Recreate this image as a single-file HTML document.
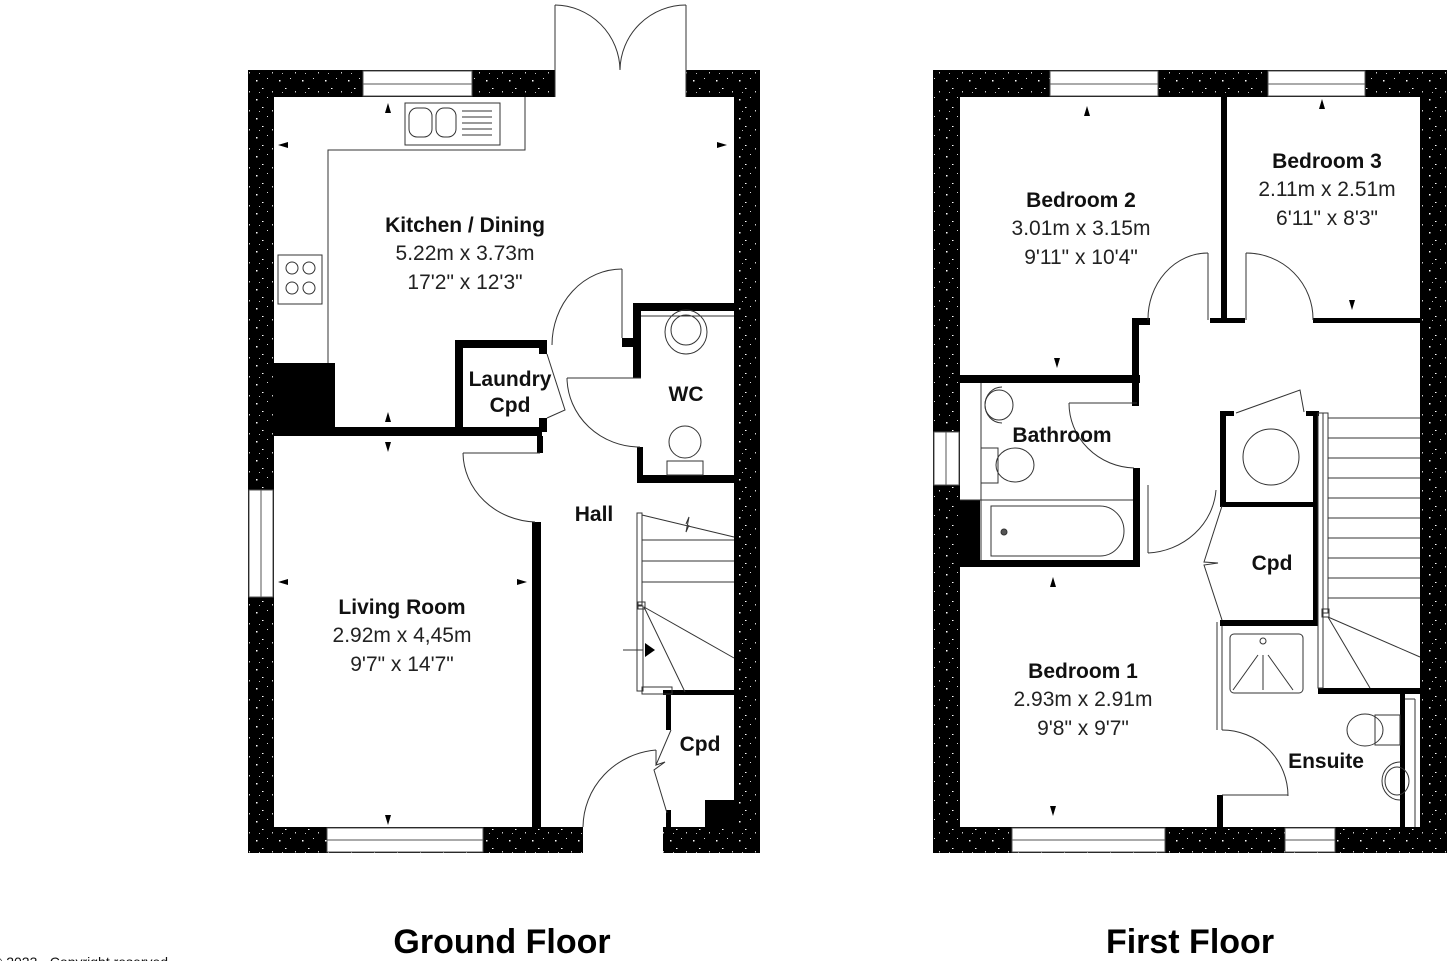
<!DOCTYPE html>
<html><head><meta charset="utf-8"><style>
html,body{margin:0;padding:0;background:#fff;}
svg{display:block;}
text{font-family:"Liberation Sans",sans-serif;fill:#111;}
.b{font-weight:bold;font-size:21px;}
.n{font-size:21px;fill:#222;}
.t{font-weight:bold;font-size:34px;fill:#000;}
</style></head><body>
<svg width="1452" height="961" viewBox="0 0 1452 961" xmlns="http://www.w3.org/2000/svg">
<defs>
<pattern id="sp" width="23" height="19" patternUnits="userSpaceOnUse">
<rect width="23" height="19" fill="#000"/>
<rect x="3" y="4" width="1.5" height="1.5" fill="#fff"/>
<rect x="14" y="2" width="1" height="1" fill="#ddd"/>
<rect x="9" y="12" width="1.5" height="1" fill="#fff"/>
<rect x="19" y="15" width="1" height="1.5" fill="#ccc"/>
<rect x="6" y="16" width="1" height="1" fill="#bbb"/>
</pattern>
</defs>
<g fill="url(#sp)">
<rect x="248" y="70" width="307" height="27"/>
<rect x="686" y="70" width="74" height="27"/>
<rect x="248" y="70" width="26" height="783"/>
<rect x="734" y="70" width="26" height="783"/>
<rect x="248" y="827" width="335" height="26"/>
<rect x="663" y="827" width="97" height="26"/>
<rect x="933" y="70" width="514" height="27"/>
<rect x="933" y="70" width="27" height="783"/>
<rect x="1420" y="70" width="27" height="783"/>
<rect x="933" y="827" width="514" height="26"/>
</g>
<g fill="#fff" stroke="#555" stroke-width="1">
<rect x="363" y="71" width="109" height="25"/><line x1="363" y1="84" x2="472" y2="84"/>
<rect x="249" y="490" width="24" height="107"/><line x1="261" y1="490" x2="261" y2="597"/>
<rect x="327" y="828" width="156" height="24"/><line x1="327" y1="840" x2="483" y2="840"/>
<rect x="1050" y="71" width="108" height="25"/><line x1="1050" y1="84" x2="1158" y2="84"/>
<rect x="1268" y="71" width="97" height="25"/><line x1="1268" y1="84" x2="1365" y2="84"/>
<rect x="934" y="432" width="25" height="53"/><line x1="946" y1="432" x2="946" y2="485"/>
<rect x="1012" y="828" width="153" height="24"/><line x1="1012" y1="840" x2="1165" y2="840"/>
<rect x="1285" y="828" width="50" height="24"/><line x1="1285" y1="840" x2="1335" y2="840"/>
</g>
<g fill="#000">
<rect x="274" y="363" width="61" height="64"/>
<rect x="274" y="427" width="268" height="9"/>
<rect x="455" y="340" width="92" height="8"/>
<rect x="455" y="340" width="8" height="92"/>
<rect x="539" y="340" width="8" height="14"/>
<rect x="539" y="418" width="8" height="14"/>
<rect x="537" y="436" width="6" height="17"/>
<rect x="532" y="522" width="9" height="305"/>
<rect x="622" y="338" width="18" height="9"/>
<rect x="633" y="303" width="101" height="8"/>
<rect x="633" y="303" width="8" height="75"/>
<rect x="637" y="447" width="6" height="36"/>
<rect x="637" y="475" width="97" height="8"/>
<rect x="663" y="690" width="71" height="5"/>
<rect x="666" y="695" width="5" height="35"/>
<rect x="666" y="810" width="5" height="17"/>
<rect x="705" y="800" width="29" height="27"/>
</g>
<g fill="none" stroke="#333" stroke-width="1">
<polyline points="525,97 525,150 328,150 328,363"/>
<rect x="405" y="103" width="95" height="42"/>
<rect x="409" y="108" width="23" height="29" rx="8"/>
<rect x="436" y="108" width="20" height="29" rx="8"/>
<line x1="462" y1="111" x2="492" y2="111"/><line x1="462" y1="117" x2="492" y2="117"/><line x1="462" y1="123" x2="492" y2="123"/><line x1="462" y1="129" x2="492" y2="129"/><line x1="462" y1="135" x2="492" y2="135"/>
<rect x="278" y="255" width="44" height="49"/>
<circle cx="292" cy="268" r="6"/><circle cx="309" cy="268" r="6"/><circle cx="292" cy="288" r="6"/><circle cx="309" cy="288" r="6"/>
<line x1="555" y1="97" x2="555" y2="5"/><path d="M555,5 A66,66 0 0 1 620,70"/>
<line x1="686" y1="97" x2="686" y2="5"/><path d="M686,5 A66,66 0 0 0 620,70"/>
<line x1="622" y1="338" x2="622" y2="269"/><path d="M622,269 A70,76 0 0 0 552,345"/>
<path d="M547,354 L565,410 L547,418"/>
<line x1="641" y1="378" x2="567" y2="378"/><path d="M567,378 A73,70 0 0 0 640,447"/>
<line x1="641" y1="316" x2="734" y2="316"/>
<ellipse cx="686" cy="332" rx="21" ry="22"/><ellipse cx="686" cy="330" rx="15" ry="15"/>
<ellipse cx="685" cy="442" rx="16" ry="16"/><rect x="667" y="461" width="36" height="14"/>
<line x1="540" y1="453" x2="463" y2="453"/><path d="M463,453 A75,70 0 0 0 535,522"/>
<rect x="637" y="513" width="5" height="92"/>
<line x1="642" y1="515" x2="734" y2="537"/>
<path d="M686,524 l3,-7 l-3,15 l3,-7" />
<line x1="642" y1="540" x2="734" y2="540"/><line x1="642" y1="561" x2="734" y2="561"/><line x1="642" y1="582" x2="734" y2="582"/>
<rect x="637" y="606" width="6" height="85"/>
<rect x="638" y="602" width="7" height="7"/>
<line x1="644" y1="607" x2="734" y2="658"/>
<line x1="644" y1="607" x2="685" y2="692"/>
<rect x="642" y="687" width="30" height="7"/>
<line x1="623" y1="650" x2="643" y2="650"/>
<path d="M583,827 A80,78 0 0 1 656,750"/><line x1="656" y1="750" x2="656" y2="765"/>
<path d="M671,730 L656,765 L665,762 L654,770 L667,813"/>
</g>
<g fill="#000">
<path d="M385,113 l3,-10 l3,10z"/><path d="M288,142 l-10,3 l10,3z"/><path d="M717,142 l10,3 l-10,3z"/>
<path d="M385,422 l3,-10 l3,10z M385,442 l3,10 l3,-10z"/>
<path d="M288,579 l-10,3 l10,3z"/><path d="M517,579 l10,3 l-10,3z"/>
<path d="M385,815 l3,10 l3,-10z"/>
<path d="M645,643 l10,7 l-10,7z"/>
</g>
<g fill="#000">
<rect x="1221" y="97" width="6" height="226"/>
<rect x="1210" y="318" width="35" height="5"/>
<rect x="1313" y="318" width="107" height="5"/>
<rect x="1132" y="318" width="18" height="7"/>
<rect x="1132" y="318" width="7" height="88"/>
<rect x="960" y="375" width="180" height="8"/>
<rect x="1133" y="468" width="7" height="98"/>
<rect x="960" y="560" width="180" height="7"/>
<rect x="960" y="500" width="20" height="60"/>
<rect x="1220" y="411" width="6" height="95"/>
<rect x="1220" y="411" width="14" height="5"/>
<rect x="1306" y="411" width="13" height="5"/>
<rect x="1313" y="411" width="5" height="215"/>
<rect x="1220" y="502" width="98" height="5"/>
<rect x="1220" y="620" width="98" height="6"/>
<rect x="1318" y="688" width="102" height="6"/>
<rect x="1400" y="694" width="5" height="133"/>
<rect x="1217" y="795" width="6" height="32"/>
</g>
<g fill="none" stroke="#333" stroke-width="1">
<line x1="1208" y1="320" x2="1208" y2="253"/><path d="M1208,253 A60,66 0 0 0 1148,320"/>
<line x1="1246" y1="320" x2="1246" y2="253"/><path d="M1246,253 A67,66 0 0 1 1313,320"/>
<line x1="981" y1="383" x2="981" y2="560"/><line x1="960" y1="500" x2="1133" y2="500"/>
<path d="M1002,387 a17,18 0 1 0 0,36"/><ellipse cx="999" cy="405" rx="14" ry="15"/>
<rect x="981" y="448" width="17" height="35"/><ellipse cx="1015" cy="465" rx="19" ry="17"/>
<path d="M991,506 L1100,506 A24,25 0 0 1 1100,556 L991,556 Z"/>
<circle cx="1004" cy="532" r="3" fill="#555"/>
<line x1="1137" y1="403" x2="1069" y2="403"/><path d="M1069,403 A67,65 0 0 0 1134,468"/>
<line x1="1148" y1="485" x2="1148" y2="553"/><path d="M1148,553 A72,68 0 0 0 1216,490"/>
<circle cx="1271" cy="457" r="28"/>
<path d="M1236,413 L1300,390 L1304,412"/>
<path d="M1222,506 L1204,562 L1218,563 L1204,565 L1222,620"/>
<rect x="1318" y="413" width="5" height="275"/><rect x="1323" y="413" width="5" height="200"/>
<line x1="1328" y1="418" x2="1420" y2="418"/>
<line x1="1328" y1="438" x2="1420" y2="438"/><line x1="1328" y1="458" x2="1420" y2="458"/><line x1="1328" y1="478" x2="1420" y2="478"/><line x1="1328" y1="498" x2="1420" y2="498"/><line x1="1328" y1="518" x2="1420" y2="518"/><line x1="1328" y1="538" x2="1420" y2="538"/><line x1="1328" y1="558" x2="1420" y2="558"/><line x1="1328" y1="578" x2="1420" y2="578"/><line x1="1328" y1="598" x2="1420" y2="598"/>
<rect x="1322" y="609" width="7" height="8"/>
<line x1="1328" y1="617" x2="1420" y2="657"/><line x1="1328" y1="617" x2="1370" y2="688"/>
<line x1="1217" y1="622" x2="1217" y2="730"/><line x1="1222" y1="626" x2="1222" y2="730"/>
<rect x="1230" y="634" width="73" height="59" rx="4"/>
<ellipse cx="1263" cy="641" rx="3" ry="3"/>
<line x1="1263" y1="655" x2="1263" y2="690"/><line x1="1258" y1="655" x2="1233" y2="690"/><line x1="1268" y1="655" x2="1293" y2="690"/>
<path d="M1222,730 A66,66 0 0 1 1288,796"/><line x1="1222" y1="795" x2="1288" y2="795"/>
<rect x="1375" y="715" width="25" height="30"/><ellipse cx="1365" cy="730" rx="18" ry="16"/>
<path d="M1400,762 a18,19 0 1 0 0,38"/><ellipse cx="1397" cy="781" rx="12" ry="14"/>
<line x1="1405" y1="699" x2="1415" y2="699"/><line x1="1415" y1="699" x2="1415" y2="827"/>
</g>
<g fill="#000">
<path d="M1084,116 l3,-10 l3,10z"/><path d="M1319,109 l3,-10 l3,10z"/>
<path d="M1054,358 l3,10 l3,-10z"/><path d="M1349,300 l3,10 l3,-10z"/>
<path d="M1050,587 l3,-10 l3,10z"/><path d="M1050,806 l3,10 l3,-10z"/>
</g>
<text class="b" x="465" y="232" text-anchor="middle">Kitchen / Dining</text>
<text class="n" x="465" y="260" text-anchor="middle">5.22m x 3.73m</text>
<text class="n" x="465" y="289" text-anchor="middle">17'2" x 12'3"</text>
<text class="b" x="510" y="386" text-anchor="middle">Laundry</text>
<text class="b" x="510" y="412" text-anchor="middle">Cpd</text>
<text class="b" x="686" y="401" text-anchor="middle">WC</text>
<text class="b" x="594" y="521" text-anchor="middle">Hall</text>
<text class="b" x="402" y="614" text-anchor="middle">Living Room</text>
<text class="n" x="402" y="642" text-anchor="middle">2.92m x 4,45m</text>
<text class="n" x="402" y="671" text-anchor="middle">9'7" x 14'7"</text>
<text class="b" x="700" y="751" text-anchor="middle">Cpd</text>
<text class="b" x="1081" y="207" text-anchor="middle">Bedroom 2</text>
<text class="n" x="1081" y="235" text-anchor="middle">3.01m x 3.15m</text>
<text class="n" x="1081" y="264" text-anchor="middle">9'11" x 10'4"</text>
<text class="b" x="1327" y="168" text-anchor="middle">Bedroom 3</text>
<text class="n" x="1327" y="196" text-anchor="middle">2.11m x 2.51m</text>
<text class="n" x="1327" y="225" text-anchor="middle">6'11" x 8'3"</text>
<text class="b" x="1062" y="442" text-anchor="middle">Bathroom</text>
<text class="b" x="1272" y="570" text-anchor="middle">Cpd</text>
<text class="b" x="1083" y="678" text-anchor="middle">Bedroom 1</text>
<text class="n" x="1083" y="706" text-anchor="middle">2.93m x 2.91m</text>
<text class="n" x="1083" y="735" text-anchor="middle">9'8" x 9'7"</text>
<text class="b" x="1326" y="768" text-anchor="middle">Ensuite</text>
<text class="t" x="502" y="953" text-anchor="middle">Ground Floor</text>
<text class="t" x="1190" y="953" text-anchor="middle">First Floor</text>
<text x="-8" y="967" font-size="14">© 2023 - Copyright reserved</text>
</svg>
</body></html>
